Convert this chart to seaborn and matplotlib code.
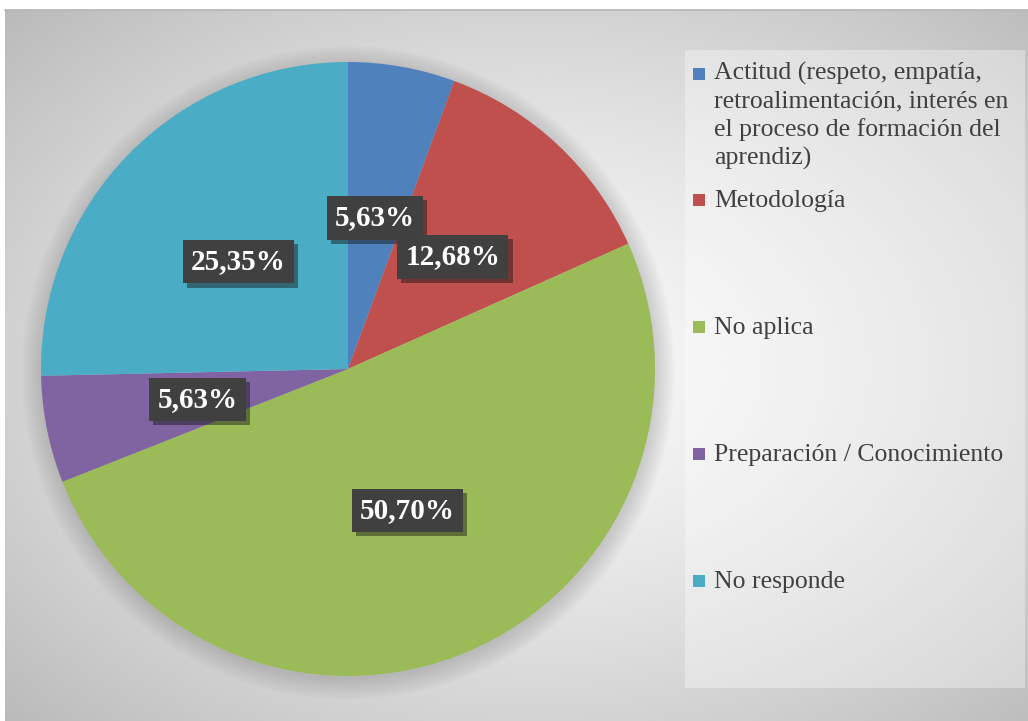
import matplotlib
matplotlib.use('Agg')
import matplotlib.pyplot as plt
import matplotlib.patheffects as pe
from matplotlib.patches import Rectangle, Circle
import numpy as np
import seaborn as sns

# Datos del gráfico
categorias = ['Actitud (respeto, empatía,\nretroalimentación, interés en\nel proceso de formación del\naprendiz)',
              'Metodología', 'No aplica', 'Preparación / Conocimiento', 'No responde']
porcentajes = [5.63, 12.68, 50.70, 5.63, 25.35]
colores = sns.color_palette(['#4F81BD', '#C0504D', '#9BBB59', '#8064A2', '#4BACC6'])

sns.set_style('white')
plt.rcParams['font.family'] = ['Liberation Serif', 'DejaVu Serif']

W, H = 1028, 721
fig = plt.figure(figsize=(W / 100, H / 100), dpi=100)

# Fondo con degradado radial
bg = fig.add_axes([5 / W, 0, 1 - 5 / W, 1 - 10 / H])
yy, xx = np.mgrid[0:1:300j, 0:1:450j]
d = np.sqrt(((xx - 0.52) / 0.75) ** 2 + ((yy - 0.5) / 0.75) ** 2)
grad = np.clip(0.975 - 0.26 * d ** 1.4, 0, 1)
bg.imshow(grad, cmap='gray', vmin=0, vmax=1, extent=[0, 1, 0, 1], aspect='auto', interpolation='bicubic')
bg.set_xticks([])
bg.set_yticks([])
for s in ['right', 'bottom', 'left']:
    bg.spines[s].set_visible(False)
bg.spines['top'].set_color('#b5b5b5')
bg.spines['top'].set_linewidth(1.2)

# Pastel
cx, cy, r = 348, 369, 307
ax = fig.add_axes([(cx - r) / W, (H - cy - r) / H, 2 * r / W, 2 * r / H])
for k in range(10):
    ax.add_patch(Circle((0, -0.012), 1.0 + 0.007 * k, color='#7a7a7a', alpha=0.035, lw=0, clip_on=False, zorder=0))
wedges, _, autotexts = ax.pie(porcentajes, colors=colores, startangle=90, counterclock=False,
                              autopct='%1.2f%%', pctdistance=0.5, wedgeprops=dict(linewidth=0))
for w in wedges:
    w.set_zorder(1)
for t, v in zip(autotexts, porcentajes):
    t.set_text(f'{v:.2f}'.replace('.', ',') + '%')
    t.set_color('white')
    t.set_fontweight('bold')
    t.set_fontsize(21)
    t.set_zorder(5)
    t.set_bbox(dict(boxstyle='square,pad=0.28', fc='#404040', lw=0))
    t.get_bbox_patch().set_path_effects([pe.withSimplePatchShadow(offset=(3, -3), alpha=0.45), pe.Normal()])
ax.set_xlim(-1, 1)
ax.set_ylim(-1, 1)
ax.axis('off')

# Leyenda
ov = fig.add_axes([0, 0, 1, 1], zorder=10)
ov.set_xlim(0, W)
ov.set_ylim(H, 0)
ov.axis('off')
ov.add_patch(Rectangle((685, 50), 340, 638, fc='white', alpha=0.35, lw=0))
bases = [81, 207, 334, 461, 588]
paso = 28
for lab, col, yb in zip(categorias, colores, bases):
    ov.add_patch(Rectangle((693, yb - 13), 12, 12, fc=col, lw=0))
    n = lab.count('\n')
    ov.text(714, yb + n * paso, lab, fontsize=18.5, color='#404040', va='baseline', ha='left',
            linespacing=1.33)

fig.savefig('out.png', dpi=100)
